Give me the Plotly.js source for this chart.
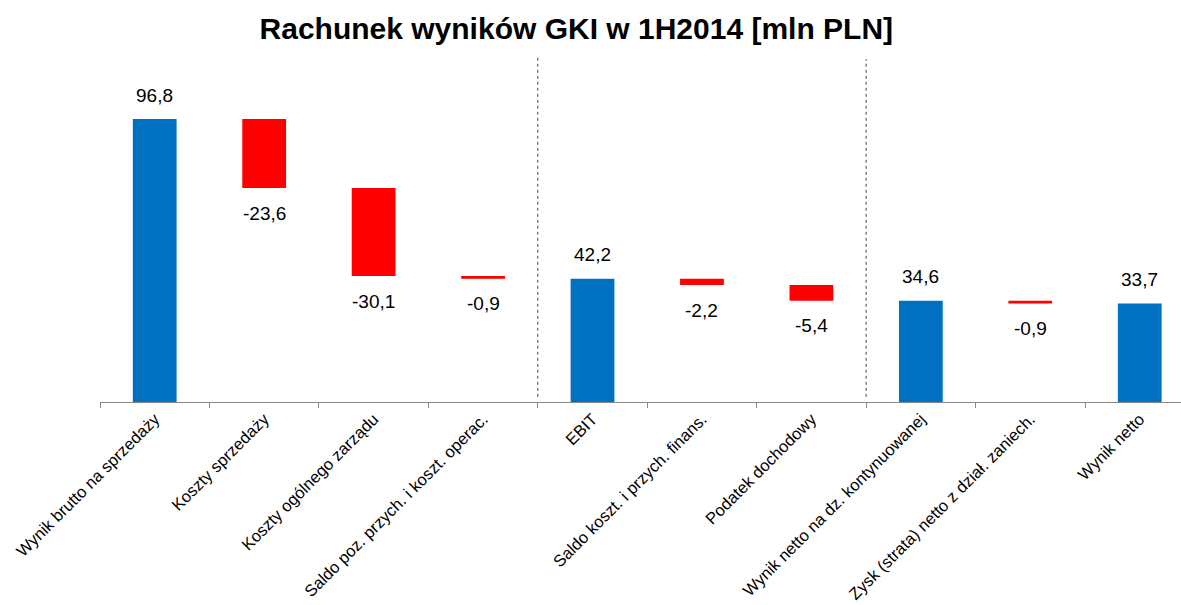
<!DOCTYPE html>
<html>
<head>
<meta charset="utf-8">
<script src="https://cdn.plot.ly/plotly-3.0.1.min.js"></script>
<style>html,body{margin:0;padding:0;background:#fff;}#chart{width:1181px;height:605px;}</style>
</head>
<body>
<div id="chart"></div>
<script>
const categories = [
  "Wynik brutto na sprzedaży",
  "Koszty sprzedaży",
  "Koszty ogólnego zarządu",
  "Saldo poz. przych. i koszt. operac.",
  "EBIT",
  "Saldo koszt. i przych. finans.",
  "Podatek dochodowy",
  "Wynik netto na dz. kontynuowanej",
  "Zysk (strata) netto z dział. zaniech.",
  "Wynik netto"
];
const values = [96.8, -23.6, -30.1, -0.9, 42.2, -2.2, -5.4, 34.6, -0.9, 33.7];
const measures = ["relative", "relative", "relative", "relative", "total", "relative", "relative", "total", "relative", "total"];
const labels = ["96,8", "-23,6", "-30,1", "-0,9", "42,2", "-2,2", "-5,4", "34,6", "-0,9", "33,7"];

const BLUE = "#0070C0", RED = "#FF0000";
const FONT = "Arial, 'Liberation Sans', sans-serif";

// label anchors from bar ends computed from the data
const annotations = [];
let run = 0;
categories.forEach((c, i) => {
  let top, bottom;
  if (measures[i] === "total") { top = run; bottom = 0; }
  else { const start = run; run += values[i]; top = Math.max(start, run); bottom = Math.min(start, run); }
  if (measures[i] === "total" || values[i] >= 0) {
    annotations.push({x: c, y: top, xref: "x", yref: "y", text: labels[i], showarrow: false,
      yanchor: "middle", yshift: 24, font: {family: FONT, size: 19, color: "#000"}});
  } else {
    annotations.push({x: c, y: bottom, xref: "x", yref: "y", text: labels[i], showarrow: false,
      yanchor: "middle", yshift: -25, font: {family: FONT, size: 19, color: "#000"}});
  }
});

const trace = {
  type: "waterfall",
  x: categories,
  y: values,
  measure: measures,
  width: 0.4,
  increasing: {marker: {color: BLUE}},
  decreasing: {marker: {color: RED}},
  totals: {marker: {color: BLUE}},
  connector: {visible: false},
  hoverinfo: "none",
  textinfo: "none"
};

const layout = {
  width: 1181, height: 605,
  margin: {l: 99.5, r: 0, t: 55, b: 203},
  paper_bgcolor: "#fff", plot_bgcolor: "#fff",
  showlegend: false,
  title: {text: "<b>Rachunek wyników GKI w 1H2014 [mln PLN]</b>", x: 0.488, xanchor: "center", y: 0.953, yanchor: "middle",
    font: {family: FONT, size: 30, color: "#000"}},
  xaxis: {
    type: "category",
    range: [-0.5, 9.377],
    showline: true, linecolor: "#888", linewidth: 1,
    ticks: "outside", ticklen: 5, tickcolor: "#888", tickson: "boundaries",
    tickangle: -45,
    tickfont: {family: FONT, size: 16.5, color: "#000"},
    showgrid: false, zeroline: false, fixedrange: true
  },
  yaxis: {
    range: [0, 118.7],
    visible: false, showgrid: false, zeroline: false, fixedrange: true
  },
  shapes: [
    {type: "line", xref: "x", yref: "paper", x0: 3.5, x1: 3.5, y0: 0.015, y1: 1.0, line: {color: "#444", width: 1, dash: "dot"}},
    {type: "line", xref: "x", yref: "paper", x0: 6.5, x1: 6.5, y0: 0.015, y1: 0.988, line: {color: "#444", width: 1, dash: "dot"}}
  ],
  annotations: annotations
};

Plotly.newPlot("chart", [trace], layout, {displayModeBar: false, staticPlot: true});
</script>
</body>
</html>
